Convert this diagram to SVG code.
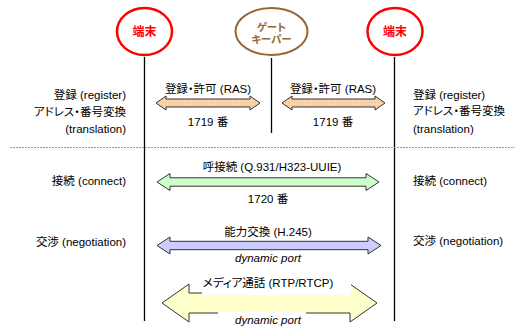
<svg xmlns="http://www.w3.org/2000/svg" width="525" height="327" viewBox="0 0 525 327">
<defs>
<style>
text{font-family:"Liberation Sans","Noto Sans CJK JP",sans-serif;font-size:11.5px;fill:#000;font-feature-settings:"palt"}
.r{text-anchor:end}.m{text-anchor:middle}
.it{font-style:italic}
.node-t{fill:none;stroke:#ff0000;stroke-width:2.5}
.node-g{fill:none;stroke:#996633;stroke-width:2}
.tt{font-weight:bold;fill:#ff0000;font-size:12px;text-anchor:middle}
.gt{font-weight:bold;fill:#996633;font-size:10.5px;text-anchor:middle}
.vl{stroke:#000;stroke-width:1.3;fill:none}
.arr{stroke:#333;stroke-width:1}
</style>
<pattern id="ras" width="3" height="3" patternUnits="userSpaceOnUse">
<rect width="3" height="3" fill="#fcd9b4"/>
<path d="M0 0.5H3M0.5 0V3" stroke="#f4bf92" stroke-width="0.6"/>
</pattern>
</defs>
<rect width="525" height="327" fill="#fff"/>

<g id="term-left"><ellipse cx="144.5" cy="31.5" rx="27.5" ry="23.5" class="node-t"/><text x="144.5" y="35.5" class="tt">端末</text></g>
<g id="gatekeeper"><ellipse cx="271.5" cy="31.5" rx="36" ry="23.5" class="node-g"/><text x="271.5" y="31" class="gt">ゲート</text><text x="271.5" y="43" class="gt">キーパー</text></g>
<g id="term-right"><ellipse cx="395" cy="31.5" rx="27.5" ry="23.5" class="node-t"/><text x="395" y="35.5" class="tt">端末</text></g>

<g id="lifelines">
<line x1="144.5" y1="57" x2="144.5" y2="321" class="vl"/>
<line x1="271.5" y1="58" x2="271.5" y2="133" class="vl"/>
<line x1="394.5" y1="57" x2="394.5" y2="321" class="vl"/>
<line x1="10" y1="147.5" x2="515" y2="147.5" stroke="#999" stroke-width="1" stroke-dasharray="2,1"/>
</g>

<g id="labels-left">
<text x="126" y="99" class="r">登録 (register)</text>
<text x="126" y="116" class="r">アドレス・番号変換</text>
<text x="126" y="133" class="r">(translation)</text>
<text x="126" y="185" class="r">接続 (connect)</text>
<text x="126" y="246" class="r">交渉 (negotiation)</text>
</g>
<g id="labels-right">
<text x="413" y="99">登録 (register)</text>
<text x="413" y="115">アドレス・番号変換</text>
<text x="413" y="133">(translation)</text>
<text x="413" y="185">接続 (connect)</text>
<text x="413" y="245">交渉 (negotiation)</text>
</g>

<g id="connectors">
<path class="arr" fill="url(#ras)" d="M156,103 L166,96 L166,99 L250,99 L250,96 L260,103 L250,110 L250,107 L166,107 L166,110 Z"/>
<path class="arr" fill="url(#ras)" d="M282,103 L292,96 L292,99 L375,99 L375,96 L385,103 L375,110 L375,107 L292,107 L292,110 Z"/>
<path class="arr" fill="#ccffcc" d="M157,182 L170,173.5 L170,177.8 L366,177.8 L366,173.5 L379,182 L366,190.5 L366,186.2 L170,186.2 L170,190.5 Z"/>
<path class="arr" fill="#ccccff" d="M157,245.5 L170,237 L170,241.3 L368,241.3 L368,237 L381,245.5 L368,254 L368,249.7 L170,249.7 L170,254 Z"/>
<path class="arr" fill="#ffffcc" d="M162,303 L189,284 L189,293 L350,293 L350,284 L377,303 L350,322 L350,313 L189,313 L189,322 Z"/>
</g>

<g id="arrow-labels">
<text x="208" y="93" class="m">登録・許可 (RAS)</text>
<text x="208" y="125.5" class="m">1719 番</text>
<text x="333" y="93" class="m">登録・許可 (RAS)</text>
<text x="333" y="125.5" class="m">1719 番</text>
<text x="272" y="171" class="m">呼接続 (Q.931/H323-UUIE)</text>
<text x="268" y="203" class="m">1720 番</text>
<text x="268" y="235.5" class="m">能力交換 (H.245)</text>
<text x="268" y="262" class="m it">dynamic port</text>
<rect x="202" y="277" width="149" height="18" fill="#fff"/>
<text x="268" y="287" class="m">メディア通話 (RTP/RTCP)</text>
<rect x="218" y="312" width="88" height="15" fill="#fff"/>
<text x="268" y="324" class="m it">dynamic port</text>
</g>
</svg>
